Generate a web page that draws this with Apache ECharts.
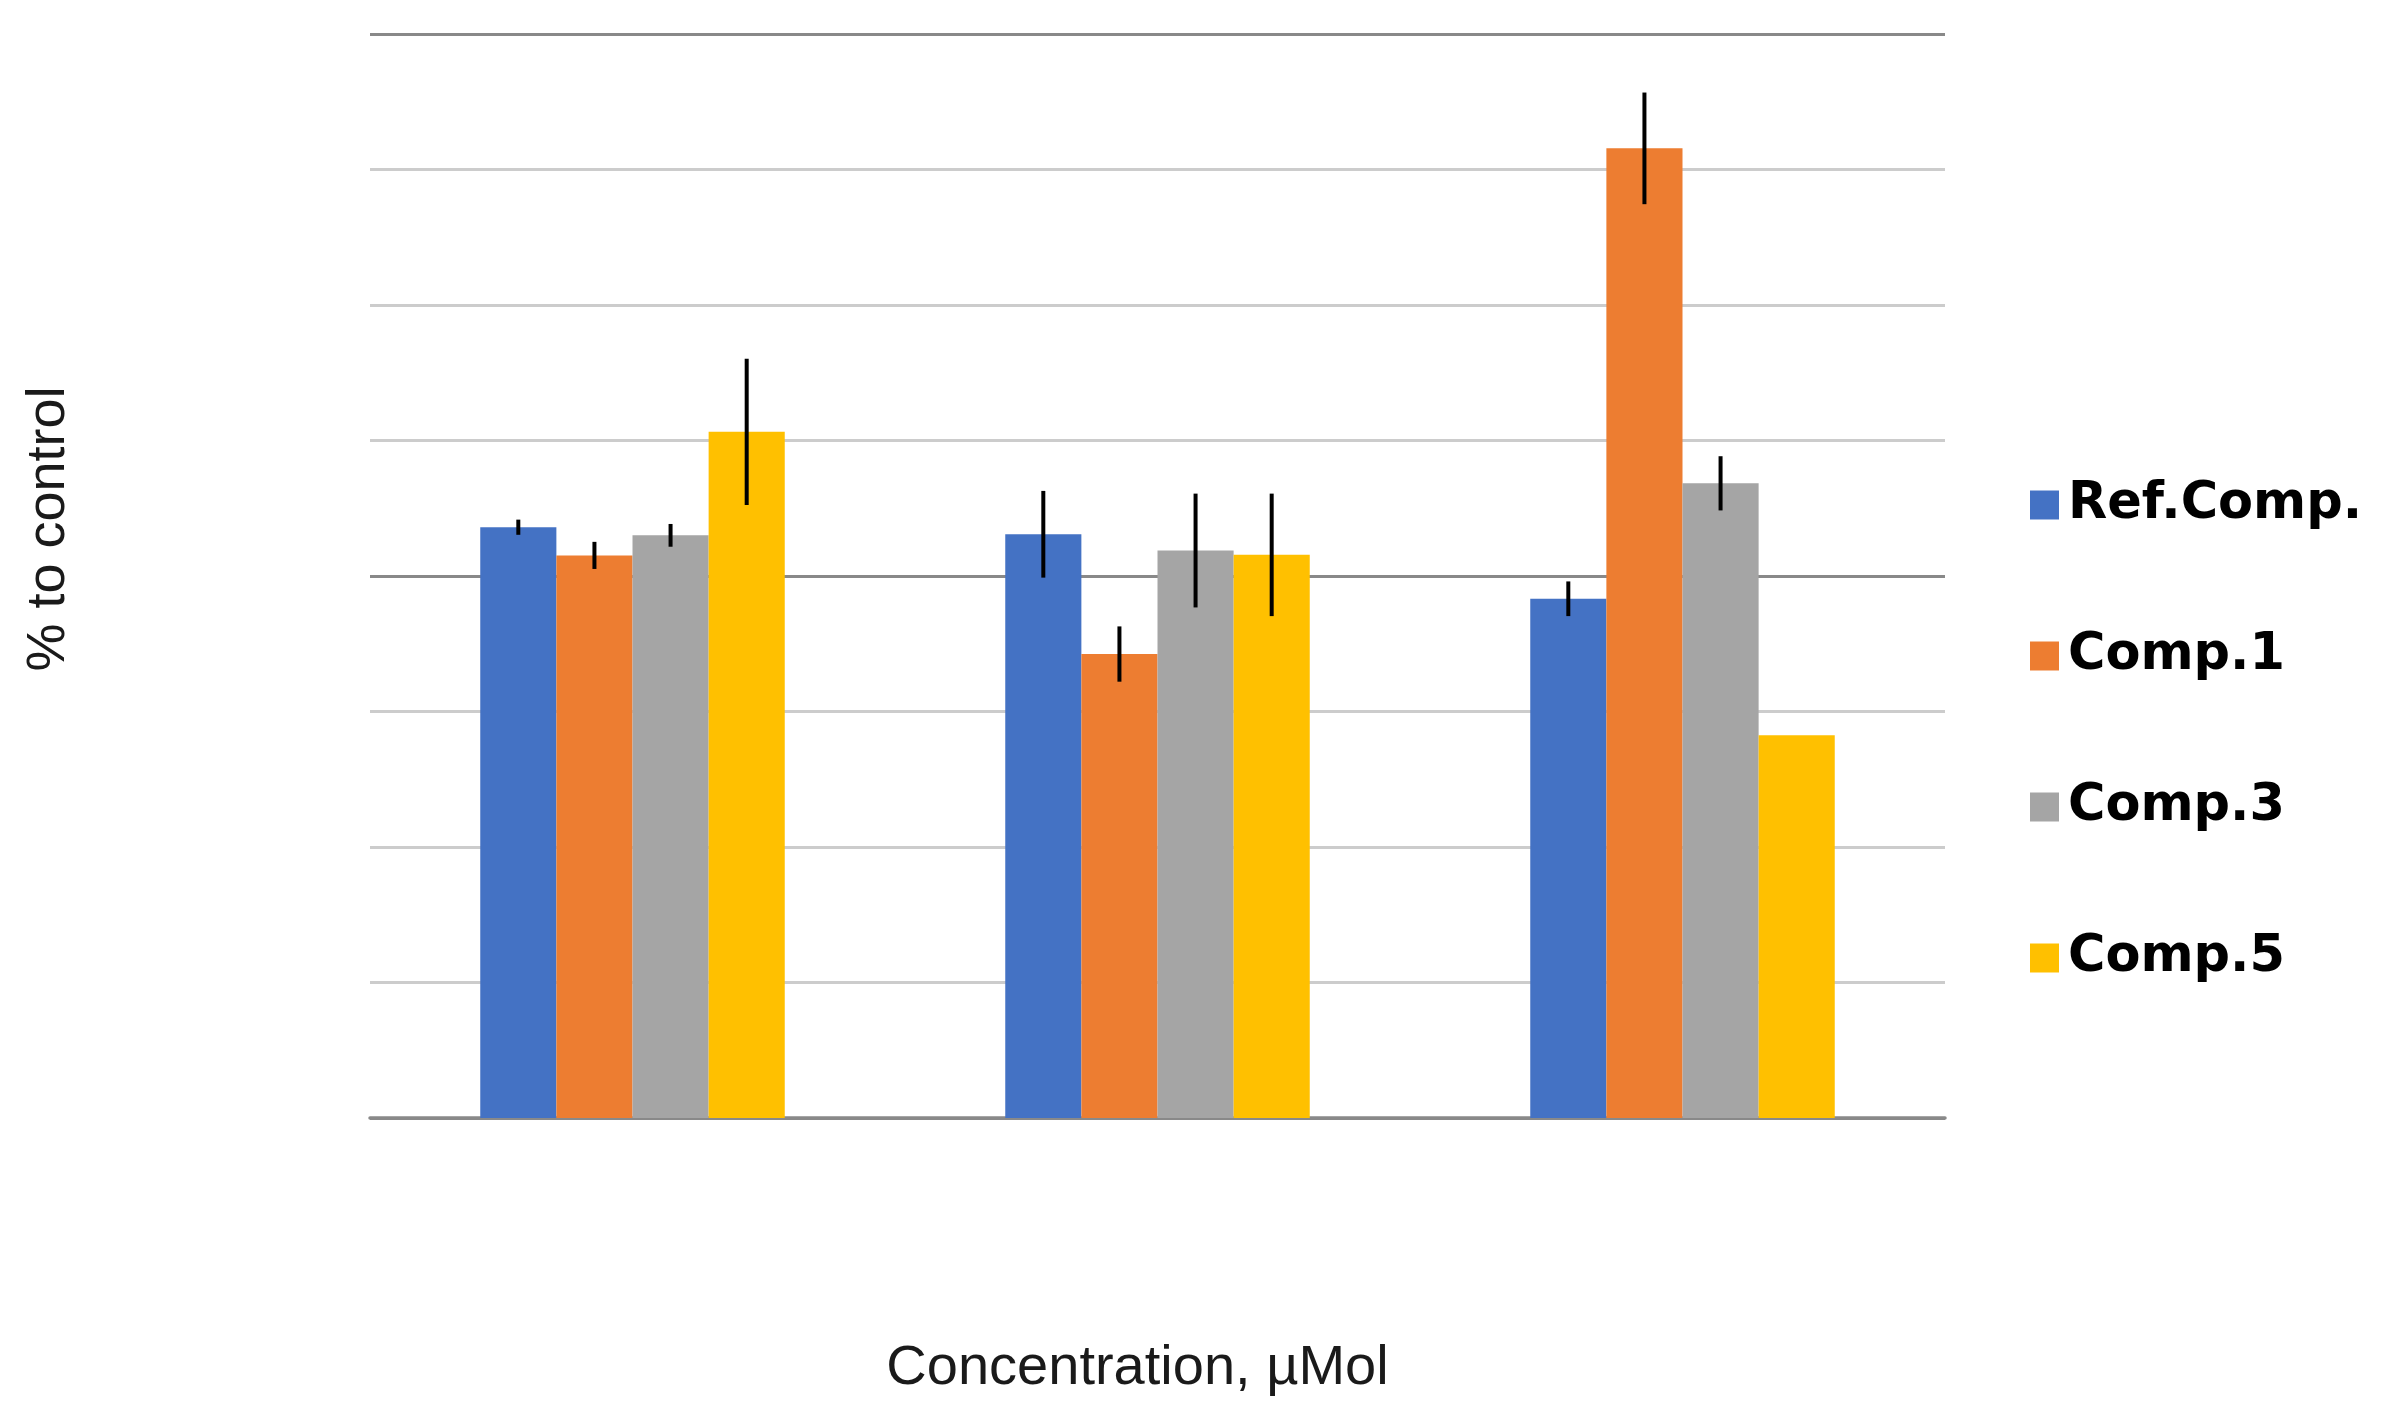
<!DOCTYPE html>
<html>
<head>
<meta charset="utf-8">
<script src="https://cdn.jsdelivr.net/npm/echarts@6/dist/echarts.min.js"></script>
<style>
html,body{margin:0;padding:0;background:#fff;}
#chart{width:2387px;height:1424px;}
</style>
</head>
<body>
<div id="chart"></div>
<script>
const categories = ['1', '2', '3'];
const seriesNames = ['Ref.Comp.', 'Comp.1', 'Comp.3', 'Comp.5'];
const refValues = [109.0, 107.7, 95.8];
const refErrors = [1.4, 8.0, 3.2];
const comp1Values = [103.8, 85.6, 178.9];
const comp1Errors = [2.5, 5.1, 10.3];
const comp3Values = [107.5, 104.7, 117.1];
const comp3Errors = [2.1, 10.5, 5.0];
const comp5Values = [126.6, 103.9, 70.6];
const comp5Errors = [13.5, 11.3, 0];
const colors = ['#4472C4', '#ED7D31', '#A5A5A5', '#FFC000'];

const allValues = [refValues, comp1Values, comp3Values, comp5Values];
const allErrors = [refErrors, comp1Errors, comp3Errors, comp5Errors];
const CAT_GAP = 0.42;

const errorData = [];
allValues.forEach((vals, s) => {
  vals.forEach((v, c) => {
    errorData.push([c, s, v, allErrors[s][c]]);
  });
});

const chart = echarts.init(document.getElementById('chart'));
const barSeries = seriesNames.map((name, i) => ({
  name: name,
  type: 'bar',
  data: allValues[i],
  barGap: 0,
  barCategoryGap: (CAT_GAP * 100) + '%',
  itemStyle: { color: colors[i] },
  z: 2
}));

barSeries.push({
  type: 'custom',
  data: errorData,
  encode: { x: 0, y: 2 },
  z: 10,
  silent: true,
  renderItem: function (params, api) {
    const cat = api.value(0), s = api.value(1), v = api.value(2), e = api.value(3);
    if (!e) return null;
    const band = api.size([1, 0])[0];
    const w = band * (1 - CAT_GAP) / 4;
    const x = api.coord([cat, v])[0] + (s - 1.5) * w;
    const yTop = api.coord([cat, v + e])[1];
    const yBot = api.coord([cat, v - e])[1];
    return {
      type: 'line',
      shape: { x1: x, y1: yTop, x2: x, y2: yBot },
      style: { stroke: '#000', lineWidth: 4 }
    };
  }
});

chart.setOption({
  animation: false,
  backgroundColor: '#ffffff',
  grid: { left: 370, right: 442, top: 34, bottom: 306 },
  legend: {
    orient: 'vertical',
    left: 2025,
    top: 472,
    data: seriesNames,
    icon: 'rect',
    itemWidth: 29,
    itemHeight: 29,
    itemGap: 95,
    textStyle: {
      fontFamily: 'DejaVu Sans',
      fontWeight: 'bold',
      fontSize: 51,
      lineHeight: 56,
      color: '#000',
      padding: [0, 0, 0, 4]
    }
  },
  xAxis: {
    type: 'category',
    data: categories,
    name: 'Concentration, µMol',
    nameLocation: 'middle',
    nameGap: 223,
    nameTextStyle: { fontFamily: 'Liberation Sans', fontSize: 56, color: '#1a1a1a', padding: [0, 40, 0, 0] },
    axisLine: { show: true, lineStyle: { color: '#898989', width: 3.5 } },
    axisTick: { show: false },
    axisLabel: { show: false },
    splitLine: { show: false }
  },
  yAxis: {
    type: 'value',
    min: 0,
    max: 200,
    interval: 25,
    axisLine: { show: false },
    axisTick: { show: false },
    axisLabel: { show: false },
    splitLine: {
      show: true,
      lineStyle: { color: ['#898989', '#cccccc', '#cccccc', '#cccccc'], width: 3 }
    }
  },
  graphic: [{
    type: 'text',
    x: 49,
    y: 529,
    rotation: Math.PI / 2,
    style: {
      text: '% to control',
      fontFamily: 'Liberation Sans',
      fontSize: 54,
      fill: '#1a1a1a',
      align: 'center',
      verticalAlign: 'middle'
    }
  }],
  series: barSeries
});
</script>
</body>
</html>
